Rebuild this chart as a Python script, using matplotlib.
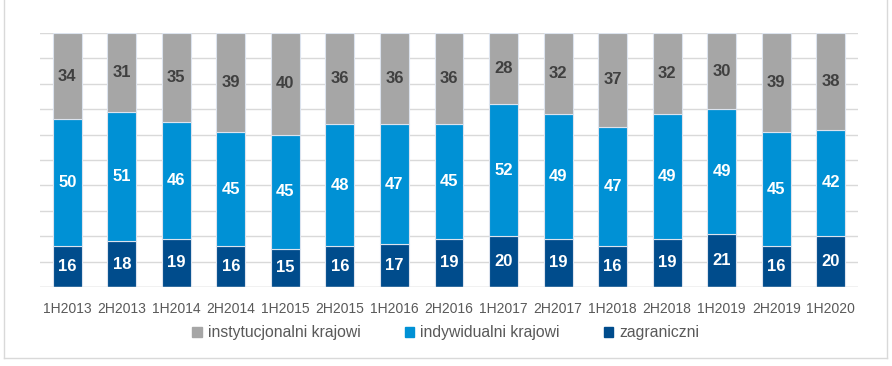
import numpy as np
import matplotlib.pyplot as plt
from matplotlib.lines import Line2D

periods = ['1H2013', '2H2013', '1H2014', '2H2014', '1H2015', '2H2015', '1H2016', '2H2016',
           '1H2017', '2H2017', '1H2018', '2H2018', '1H2019', '2H2019', '1H2020']
zagraniczni = [16, 18, 19, 16, 15, 16, 17, 19, 20, 19, 16, 19, 21, 16, 20]
indywidualni = [50, 51, 46, 45, 45, 48, 47, 45, 52, 49, 47, 49, 49, 45, 42]
instytucjonalni = [34, 31, 35, 39, 40, 36, 36, 36, 28, 32, 37, 32, 30, 39, 38]

c_dark = '#004C8C'
c_light = '#0091D5'
c_grey = '#A6A6A6'

plt.rcParams['font.family'] = ['Liberation Sans', 'DejaVu Sans']

fig = plt.figure(figsize=(8.92, 3.66), dpi=100)
ax = fig.add_axes([40/892, 1-287/366, 818/892, 254/366])

x = np.arange(len(periods))
w = 0.53
d = np.array(zagraniczni)
l = np.array(indywidualni)
g = np.array(instytucjonalni)

ax.set_axisbelow(True)
ax.grid(axis='y', color='#D9D9D9', linewidth=1)
ax.bar(x, d, w, color=c_dark, edgecolor='#DCE3EE', linewidth=0.8, label='zagraniczni')
ax.bar(x, l, w, bottom=d, color=c_light, edgecolor='#DCE3EE', linewidth=0.8, label='indywidualni krajowi')
ax.bar(x, g, w, bottom=d+l, color=c_grey, edgecolor='#DCE3EE', linewidth=0.8, label='instytucjonalni krajowi')

for i in range(len(periods)):
    ax.text(x[i], d[i]/2, str(d[i]), ha='center', va='center', color='white', fontsize=12, fontweight='bold')
    ax.text(x[i], d[i]+l[i]/2, str(l[i]), ha='center', va='center', color='white', fontsize=12, fontweight='bold')
    ax.text(x[i], d[i]+l[i]+g[i]/2, str(g[i]), ha='center', va='center', color='#404040', fontsize=12, fontweight='bold')

ax.set_ylim(0, 100)
ax.set_yticks(np.arange(0, 101, 10))
ax.set_yticklabels([])
ax.set_xlim(-0.5, len(periods)-0.5)
ax.set_xticks(x)
ax.set_xticklabels(periods, fontsize=10, color='#595959')
ax.tick_params(axis='both', length=0, pad=11)
for s in ax.spines.values():
    s.set_visible(False)
ax.axhline(0, color='#D9D9D9', linewidth=1)

handles = [plt.Rectangle((0, 0), 1, 1, color=c) for c in (c_grey, c_light, c_dark)]
labels = ['instytucjonalni krajowi', 'indywidualni krajowi', 'zagraniczni']
fig.legend(handles, labels, loc='center', bbox_to_anchor=(0.5, 1-333/366), ncol=3,
           frameon=False, fontsize=11.3, handlelength=0.6, handleheight=0.6,
           handletextpad=0.4, columnspacing=2.8, labelcolor='#595959')

# outer chart frame (top edge cut off in the reference)
fig.add_artist(Line2D([4/892, 4/892], [1-358/366, 1.0], color='#D9D9D9', lw=1, transform=fig.transFigure))
fig.add_artist(Line2D([887/892, 887/892], [1-358/366, 1.0], color='#D9D9D9', lw=1, transform=fig.transFigure))
fig.add_artist(Line2D([4/892, 887/892], [1-358/366, 1-358/366], color='#D9D9D9', lw=1, transform=fig.transFigure))

fig.savefig('out.png', dpi=100)
